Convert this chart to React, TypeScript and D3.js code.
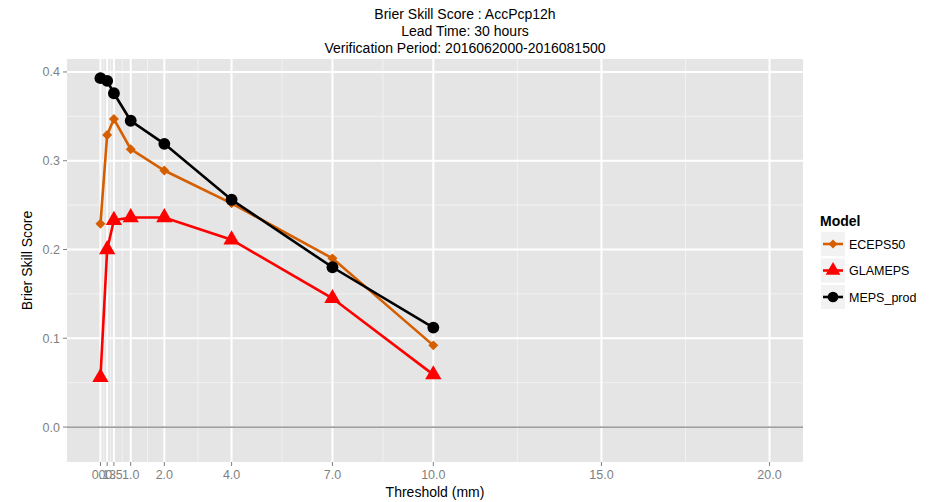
import React from "react";
import * as d3 from "d3";

const thresholds = [0.1, 0.3, 0.5, 1, 2, 4, 7, 10];
const ecepsValues = [0.229, 0.329, 0.347, 0.313, 0.289, 0.252, 0.19, 0.092];
const glamepsValues = [0.056, 0.2, 0.233, 0.236, 0.236, 0.211, 0.145, 0.059];
const mepsValues = [0.393, 0.39, 0.376, 0.345, 0.319, 0.256, 0.18, 0.112];
const xTicks = [0.1, 0.3, 0.5, 1, 2, 4, 7, 10, 15, 20];
const yTicks = [0, 0.1, 0.2, 0.3, 0.4];
const titleLines = [
  "Brier Skill Score : AccPcp12h",
  "Lead Time: 30 hours",
  "Verification Period: 2016062000-2016081500",
];

const series = [
  { name: "ECEPS50", values: ecepsValues, color: "#D55E00", shape: "diamond" },
  { name: "GLAMEPS", values: glamepsValues, color: "#FF0000", shape: "triangle" },
  { name: "MEPS_prod", values: mepsValues, color: "#000000", shape: "circle" },
];

const W = 931, H = 502;
const P = { left: 67, right: 803, top: 59, bottom: 462 };

const squareDiamond: d3.SymbolType = {
  draw(context, size) {
    const r = Math.sqrt(size / 2);
    context.moveTo(0, -r);
    context.lineTo(r, 0);
    context.lineTo(0, r);
    context.lineTo(-r, 0);
    context.closePath();
  },
};

export default function App() {
  const x = d3.scaleLinear().domain([-0.895, 20.995]).range([P.left, P.right]);
  const y = d3.scaleLinear().domain([-0.0394, 0.4146]).range([P.bottom, P.top]);
  const minorX: number[] = [];
  for (let i = 0; i < xTicks.length - 1; i++) minorX.push((xTicks[i] + xTicks[i + 1]) / 2);
  const minorY: number[] = [];
  for (let i = 0; i < yTicks.length - 1; i++) minorY.push((yTicks[i] + yTicks[i + 1]) / 2);

  const line = d3
    .line<number>()
    .x((_, i) => x(thresholds[i]))
    .y((d) => y(d));

  const symbolPath = (shape: string, size: number) => {
    if (shape === "diamond") return d3.symbol().type(squareDiamond).size(size * 0.45)()!;
    if (shape === "triangle") return d3.symbol().type(d3.symbolTriangle).size(size * 1.05)()!;
    return d3.symbol().type(d3.symbolCircle).size(size)()!;
  };

  const font = "Liberation Sans, Arial, Helvetica, sans-serif";
  const tickColor = "#7f7f7f";

  return (
    <svg width={W} height={H} style={{ position: "absolute", left: 0, top: 0 }} fontFamily={font}>
      <rect width={W} height={H} fill="#fff" />
      {titleLines.map((t, i) => (
        <text key={i} x={465} y={19 + i * 17} textAnchor="middle" fontSize={14} fill="#000">
          {t}
        </text>
      ))}
      <rect x={P.left} y={P.top} width={P.right - P.left} height={P.bottom - P.top} fill="#e5e5e5" />
      {minorY.map((v) => (
        <line key={"my" + v} x1={P.left} x2={P.right} y1={y(v)} y2={y(v)} stroke="#f2f2f2" strokeWidth={1} />
      ))}
      {minorX.map((v) => (
        <line key={"mx" + v} x1={x(v)} x2={x(v)} y1={P.top} y2={P.bottom} stroke="#f2f2f2" strokeWidth={1} />
      ))}
      {yTicks.map((v) => (
        <line key={"gy" + v} x1={P.left} x2={P.right} y1={y(v)} y2={y(v)} stroke="#fff" strokeWidth={2} />
      ))}
      {xTicks.map((v) => (
        <line key={"gx" + v} x1={x(v)} x2={x(v)} y1={P.top} y2={P.bottom} stroke="#fff" strokeWidth={2} />
      ))}
      <line x1={P.left} x2={P.right} y1={y(0)} y2={y(0)} stroke="#7f7f7f" strokeWidth={1.2} />
      {series.map((s) => (
        <g key={s.name}>
          <path d={line(s.values)!} fill="none" stroke={s.color} strokeWidth={2.6} />
          {s.values.map((v, i) => (
            <path
              key={i}
              d={symbolPath(s.shape, 110)}
              transform={`translate(${x(thresholds[i])},${y(v)})`}
              fill={s.color}
            />
          ))}
        </g>
      ))}
      {yTicks.map((v) => (
        <g key={"ty" + v}>
          <line x1={P.left - 4} x2={P.left} y1={y(v)} y2={y(v)} stroke={tickColor} />
          <text x={P.left - 7} y={y(v) + 4.5} textAnchor="end" fontSize={12.5} fill={tickColor}>
            {v.toFixed(1)}
          </text>
        </g>
      ))}
      {xTicks.map((v) => (
        <g key={"tx" + v}>
          <line x1={x(v)} x2={x(v)} y1={P.bottom} y2={P.bottom + 4} stroke={tickColor} />
          <text x={x(v)} y={P.bottom + 17} textAnchor="middle" fontSize={12.5} fill={tickColor}>
            {v.toFixed(1)}
          </text>
        </g>
      ))}
      <text x={(P.left + P.right) / 2} y={497} textAnchor="middle" fontSize={14} fill="#000">
        Threshold (mm)
      </text>
      <text transform={`translate(32,${(P.top + P.bottom) / 2}) rotate(-90)`} textAnchor="middle" fontSize={14} fill="#000">
        Brier Skill Score
      </text>
      <text x={820} y={226} fontSize={14} fontWeight="bold" fill="#000">
        Model
      </text>
      {series.map((s, i) => {
        const cy = 244 + i * 26.5;
        return (
          <g key={"lg" + s.name}>
            <rect x={821} y={cy - 12} width={24} height={24} fill="#f2f2f2" />
            <line x1={823} x2={843} y1={cy} y2={cy} stroke={s.color} strokeWidth={2.6} />
            <path d={symbolPath(s.shape, 90)} transform={`translate(833,${cy})`} fill={s.color} />
            <text x={849} y={cy + 4.5} fontSize={12.5} fill="#000">
              {s.name}
            </text>
          </g>
        );
      })}
    </svg>
  );
}
